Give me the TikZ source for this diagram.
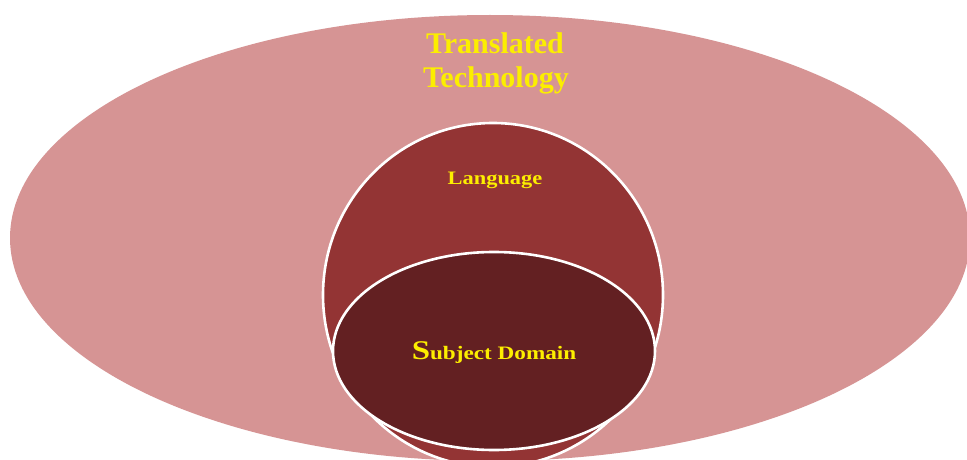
\documentclass[tikz,border=0pt]{standalone}
\usepackage{fontspec}
\setmainfont{Liberation Serif}
\usetikzlibrary{shapes.geometric}

\definecolor{outerpink}{RGB}{214,148,148}
\definecolor{midred}{RGB}{147,52,52}
\definecolor{darkred}{RGB}{99,32,34}
\definecolor{labelyellow}{RGB}{252,238,0}

\tikzset{
  region/.style={ellipse, inner sep=0pt, outer sep=0pt},
  rim/.style={draw=white, line width=2.6pt},
  tag/.style={text=labelyellow, font=\bfseries, inner sep=0pt, anchor=base}
}

\begin{document}
\begin{tikzpicture}[x=1pt, y=-1pt]
  \useasboundingbox (0,0) rectangle (967,460);
  \clip (0,0) rectangle (967,460);
  \fill[white] (0,0) rectangle (967,460);

  % nested domains
  \node[region, fill=outerpink, minimum width=960pt, minimum height=446pt] (tech) at (490,238) {};
  \node[region, fill=midred, rim, minimum width=340pt, minimum height=344pt] (lang) at (493,295) {};
  \node[region, fill=darkred, rim, minimum width=322pt, minimum height=198pt] (subj) at (494,351) {};

  % labels
  \node[tag, font=\fontsize{30}{30}\selectfont\bfseries] (t1) at (495,54) {Translated};
  \node[tag, font=\fontsize{30}{30}\selectfont\bfseries] (t2) at (496,88) {Technology};
  \node[tag, font=\fontsize{19}{19}\selectfont\bfseries] (l1) at (495,184) {\scalebox{1.18}[1]{Language}};
  \node[tag, font=\fontsize{19}{19}\selectfont\bfseries] (s1) at (494,359) {\scalebox{1.22}[1]{{\fontsize{27}{27}\selectfont S}ubject Domain}};
\end{tikzpicture}
\end{document}
